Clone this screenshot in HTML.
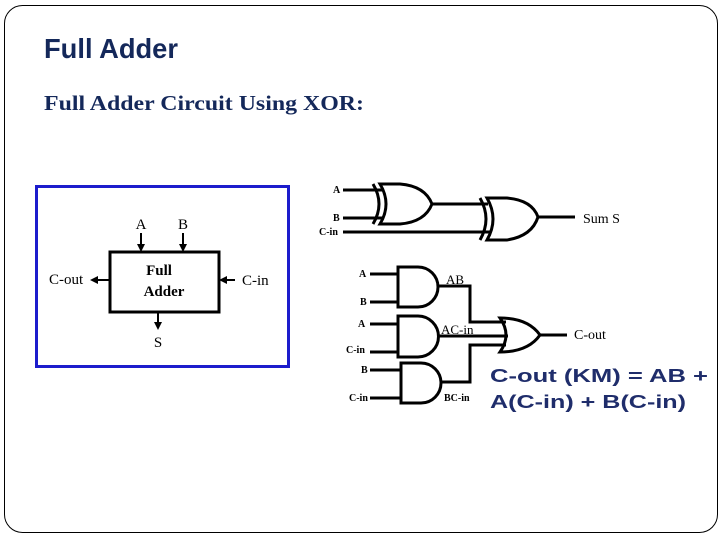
<!DOCTYPE html>
<html><head><meta charset="utf-8"><style>
html,body{margin:0;padding:0;background:#fff;width:720px;height:540px;overflow:hidden}
svg{display:block}
</style></head><body>
<svg width="720" height="540" viewBox="0 0 720 540" xmlns="http://www.w3.org/2000/svg">
<rect x="4.5" y="5.5" width="713" height="527" rx="18" fill="#fff" stroke="#000" stroke-width="1"/>
<text x="44" y="58" font-family="Liberation Sans, sans-serif" font-size="28" font-weight="bold" fill="#14285a" textLength="134" lengthAdjust="spacingAndGlyphs">Full Adder</text>
<text x="44" y="110" font-family="Liberation Serif, serif" font-weight="bold" font-size="21" fill="#14285a" textLength="320" lengthAdjust="spacingAndGlyphs">Full Adder Circuit Using XOR:</text>

<rect x="36.5" y="186.5" width="252" height="180" fill="none" stroke="#1c1ccc" stroke-width="3"/>
<rect x="110" y="252" width="109" height="60" fill="none" stroke="#000" stroke-width="3"/>
<g font-family="Liberation Serif, serif" font-size="15" fill="#000">
<text x="141" y="229" text-anchor="middle">A</text>
<text x="183" y="229" text-anchor="middle">B</text>
<text x="49" y="284">C-out</text>
<text x="242" y="285">C-in</text>
<text x="158" y="347" text-anchor="middle">S</text>
<text x="159" y="275" text-anchor="middle" font-weight="bold">Full</text>
<text x="164" y="296" text-anchor="middle" font-weight="bold">Adder</text>
</g>
<g stroke="#000" stroke-width="2" fill="#000">
<line x1="141" y1="233" x2="141" y2="246"/><polygon points="137,244 145,244 141,252" stroke="none"/>
<line x1="183" y1="233" x2="183" y2="246"/><polygon points="179,244 187,244 183,252" stroke="none"/>
<line x1="110" y1="280" x2="96" y2="280"/><polygon points="98,276 98,284 90,280" stroke="none"/>
<line x1="235" y1="280" x2="225" y2="280"/><polygon points="227,276 227,284 219,280" stroke="none"/>
<line x1="158" y1="312" x2="158" y2="324"/><polygon points="154,322 162,322 158,330" stroke="none"/>
</g>

<g stroke="#000" stroke-width="3" fill="none">
<line x1="343" y1="190" x2="383" y2="190"/>
<line x1="343" y1="218" x2="383" y2="218"/>
<line x1="343" y1="232" x2="490" y2="232"/>
<path d="M373,184 Q385,204 373,224"/>
<path d="M380,184 Q392,204 380,224 L400,224 Q425,222 432,204 Q425,186 400,184 Z"/>
<line x1="432" y1="204" x2="488" y2="204"/>
<path d="M480,198 Q492,219 480,240"/>
<path d="M487,198 Q499,219 487,240 L507,240 Q532,236 538,217 Q532,200 507,198 Z"/>
<line x1="538" y1="217" x2="575" y2="217"/>

<line x1="370" y1="274" x2="398" y2="274"/><line x1="370" y1="302" x2="398" y2="302"/>
<path d="M398,267 L418,267 A20,20 0 0 1 418,307 L398,307 Z"/>
<line x1="370" y1="324" x2="398" y2="324"/><line x1="370" y1="352" x2="398" y2="352"/>
<path d="M398,316 L418,316 A20.5,20.5 0 0 1 418,357 L398,357 Z"/>
<line x1="370" y1="370" x2="401" y2="370"/><line x1="370" y1="398" x2="401" y2="398"/>
<path d="M401,363 L421,363 A20,20 0 0 1 421,403 L401,403 Z"/>

<polyline points="438,286 470,286 470,322 506,322"/>
<line x1="439" y1="336" x2="508" y2="336"/>
<polyline points="441,382 470,382 470,345 506,345"/>
<path d="M500,318 Q512,335 500,352 Q528,352 540,335 Q528,318 500,318 Z"/>
<line x1="540" y1="335" x2="567" y2="335"/>
</g>
<g font-family="Liberation Serif, serif" font-size="10" font-weight="bold" fill="#000">
<text x="333" y="193">A</text>
<text x="333" y="221">B</text>
<text x="319" y="235">C-in</text>
<text x="359" y="277">A</text>
<text x="360" y="305">B</text>
<text x="358" y="327">A</text>
<text x="346" y="353">C-in</text>
<text x="361" y="373">B</text>
<text x="349" y="401">C-in</text>
<text x="444" y="401">BC-in</text>
</g>
<g font-family="Liberation Serif, serif" font-size="13" fill="#000">
<text x="446" y="284">AB</text>
<text x="441" y="334">AC-in</text>
<text x="583" y="223" font-size="14">Sum S</text>
<text x="574" y="339" font-size="14">C-out</text>
</g>
<g font-family="Liberation Sans, sans-serif" font-size="18" font-weight="bold" fill="#1f2d6b">
<text x="490" y="382" textLength="218" lengthAdjust="spacingAndGlyphs">C-out (KM) =  AB +</text>
<text x="490" y="408" textLength="196" lengthAdjust="spacingAndGlyphs">A(C-in) + B(C-in)</text>
</g>
</svg>
</body></html>
